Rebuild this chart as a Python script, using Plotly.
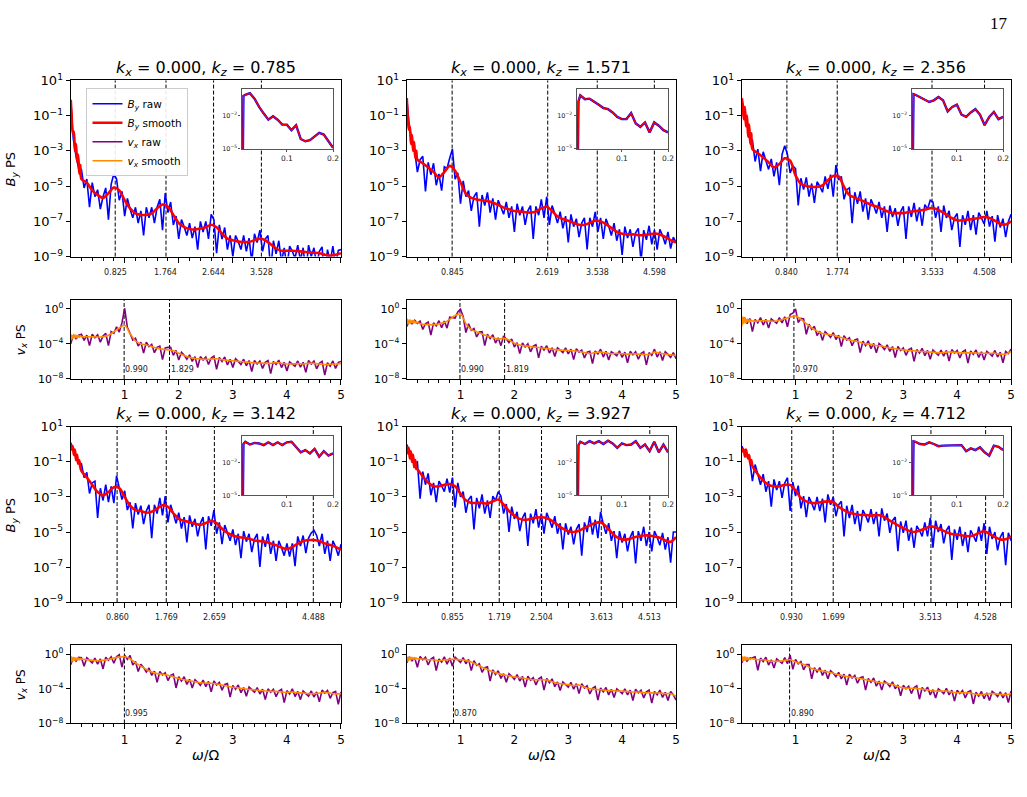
import plotly.graph_objects as go

FIG_W, FIG_H = 1027, 797

# ---------------- data ----------------
KX = 0.000
KZ = [0.785, 1.571, 2.356, 3.142, 3.927, 4.712]

# frequency sampling (omega / Omega)
S_X = [0.003, 0.02, 0.04, 0.06, 0.08, 0.10, 0.12, 0.14, 0.16, 0.18] + [round(0.2 + 0.1 * i, 2) for i in range(49)]
R_X = [0.003, 0.05, 0.1, 0.15] + [round(0.2 + 0.05 * i, 2) for i in range(97)]
INSET_X = [0.004, 0.006] + [round(0.01 * i, 2) for i in range(1, 21)]

# identified peak frequencies
BY_PEAKS = [[0.825, 1.764, 2.644, 3.528], [0.845, 2.619, 3.538, 4.598], [0.840, 1.774, 3.533, 4.508],
            [0.860, 1.769, 2.659, 4.488], [0.855, 1.719, 2.504, 3.613, 4.513], [0.930, 1.699, 3.513, 4.528]]
VX_PEAKS = [[0.990, 1.829], [0.990, 1.819], [0.970], [0.995], [0.870], [0.890]]

# log10 of B_y power spectrum, smoothed
by_smooth_1 = [-0.1, -1.0, -2.0, -1.9, -3.0, -2.6, -3.6, -3.2, -4.3, -3.8,
               -4.6, -4.8, -5.24, -5.5, -5.67, -5.4, -5.08, -5.24, -5.8, -6.26, -6.54, -6.63, -6.63, -6.54, -6.26,
               -6.04, -6.17, -6.63, -7.1, -7.33, -7.43, -7.46, -7.4, -7.33, -7.19, -7.33, -7.7, -7.98, -8.07, -8.15,
               -8.17, -8.17, -8.07, -7.98, -8.07, -8.3, -8.54, -8.67, -8.67, -8.67, -8.69, -8.72, -8.76, -8.78, -8.81,
               -8.89, -8.96, -8.9, -8.81]
by_smooth_2 = [0.0, -1.0, -1.8, -1.6, -2.6, -2.1, -3.0, -2.5, -3.4, -3.0,
               -3.5, -3.7, -3.94, -4.19, -4.5, -4.2, -3.85, -4.13, -4.78, -5.43, -5.67, -5.76, -5.8, -5.85, -5.93,
               -6.07, -6.22, -6.31, -6.41, -6.44, -6.48, -6.5, -6.44, -6.26, -6.17, -6.41, -6.72, -6.87, -6.96, -7.09,
               -7.19, -7.19, -7.09, -6.96, -7.0, -7.15, -7.37, -7.59, -7.7, -7.74, -7.74, -7.78, -7.78, -7.74, -7.69,
               -7.74, -7.89, -8.06, -8.2]
by_smooth_3 = [0.0, -0.4, -1.2, -0.5, -1.6, -1.0, -2.2, -1.5, -2.6, -2.0,
               -2.9, -3.13, -3.37, -3.65, -3.93, -3.74, -3.42, -3.55, -4.39, -4.86, -4.99, -5.04, -5.04, -4.95, -4.67,
               -4.43, -4.45, -5.04, -5.51, -5.65, -5.78, -5.91, -6.06, -6.16, -6.29, -6.43, -6.53, -6.53, -6.53, -6.47,
               -6.43, -6.39, -6.34, -6.25, -6.29, -6.43, -6.62, -6.81, -6.94, -6.94, -6.9, -6.86, -6.81, -6.75, -6.81,
               -6.96, -7.14, -7.18, -6.99]
by_smooth_4 = [0.0, -0.3, -0.1, -0.6, -0.3, -0.9, -0.6, -1.1, -0.9, -1.3,
               -1.51, -1.89, -2.31, -2.72, -2.91, -2.72, -2.45, -2.5, -3.0, -3.5, -3.75, -3.8, -3.9, -3.84, -3.66,
               -3.47, -3.56, -3.93, -4.25, -4.36, -4.44, -4.53, -4.59, -4.49, -4.36, -4.49, -4.81, -5.05, -5.2, -5.29,
               -5.33, -5.39, -5.48, -5.52, -5.56, -5.65, -5.76, -5.89, -5.98, -5.85, -5.67, -5.52, -5.46, -5.46, -5.52,
               -5.65, -5.74, -5.85, -6.02]
by_smooth_5 = [-0.1, -0.5, -0.2, -0.8, -0.4, -1.0, -0.6, -1.3, -0.9, -1.4,
               -1.42, -1.83, -2.17, -2.39, -2.39, -2.31, -2.26, -2.39, -2.82, -3.19, -3.34, -3.34, -3.34, -3.38, -3.25,
               -3.15, -3.43, -3.8, -4.07, -4.25, -4.31, -4.25, -4.18, -4.16, -4.21, -4.36, -4.59, -4.81, -4.96, -5.0,
               -4.93, -4.77, -4.62, -4.49, -4.44, -4.68, -5.01, -5.29, -5.42, -5.42, -5.33, -5.24, -5.2, -5.2, -5.26,
               -5.33, -5.48, -5.56, -5.29]
by_smooth_6 = [-0.2, -0.4, -0.3, -0.7, -0.3, -0.6, -0.8, -0.6, -1.1, -0.9,
               -1.23, -1.7, -2.07, -2.31, -2.39, -2.39, -2.31, -2.31, -2.63, -3.06, -3.25, -3.34, -3.34, -3.28, -3.25,
               -3.28, -3.56, -3.75, -3.9, -3.97, -4.03, -4.03, -4.07, -4.03, -4.07, -4.25, -4.44, -4.62, -4.77, -4.92,
               -5.0, -4.92, -4.81, -4.68, -4.74, -4.87, -5.01, -5.11, -5.15, -5.2, -5.24, -5.2, -5.05, -4.96, -5.11,
               -5.29, -5.42, -5.42, -5.24]

# log10 of B_y power spectrum, raw
by_raw_1 = [-0.15, -2.3, -3.3, -4.0,
            -4.05, -5.1, -4.6, -6.2, -4.8, -5.6, -5.2, -6.3, -5.6, -5.1,
            -6.9, -4.9, -4.3, -4.6, -5.8, -5.3, -6.7, -5.7, -6.3, -6.8,
            -6.2, -7.1, -6.4, -7.8, -6.2, -6.8, -6.2, -7.1, -6.2, -5.75,
            -7.5, -5.4, -6.5, -5.9, -7.2, -6.7, -8.0, -6.9, -7.3, -7.8,
            -7.1, -7.95, -7.3, -8.6, -7.0, -7.6, -7.0, -8.0, -6.6, -6.9,
            -8.8, -7.2, -8.0, -7.35, -8.6, -7.8, -9.0, -7.8, -8.15, -8.6,
            -7.8, -8.7, -7.95, -9.3, -7.7, -8.2, -7.5, -8.7, -8.0, -7.8,
            -9.8, -8.1, -8.85, -8.1, -9.3, -8.5, -9.6, -8.4, -8.7, -9.1,
            -8.35, -9.2, -8.5, -9.9, -8.35, -9.0, -8.5, -9.5, -8.7, -8.45,
            -10.4, -8.6, -9.3, -8.4, -9.5, -8.65, -8.6]
by_raw_2 = [0.0, -1.6, -2.4, -3.0,
            -4.2, -3.5, -3.3, -5.3, -3.65, -4.35, -3.7, -4.95, -4.3, -5.25,
            -3.9, -4.0, -3.4, -2.9, -4.6, -4.25, -6.0, -4.7, -5.6, -5.25,
            -6.4, -5.6, -5.35, -7.3, -5.5, -6.1, -5.35, -6.5, -5.7, -6.9,
            -5.8, -6.15, -6.6, -5.9, -6.8, -6.15, -7.6, -6.0, -6.65, -6.15,
            -7.2, -6.4, -6.1, -8.0, -6.15, -6.65, -5.75, -6.8, -5.6, -7.2,
            -6.1, -6.56, -7.1, -6.45, -7.4, -6.7, -8.2, -6.6, -7.3, -6.85,
            -7.9, -7.1, -6.8, -8.6, -6.8, -7.3, -6.46, -7.6, -6.8, -8.0,
            -6.85, -7.26, -7.8, -7.1, -8.1, -7.45, -8.9, -7.3, -7.95, -7.45,
            -8.45, -7.65, -7.4, -9.3, -7.5, -8.05, -7.25, -8.3, -7.5, -8.6,
            -7.45, -7.8, -8.3, -7.6, -8.55, -7.9, -8.2]
by_raw_3 = [-0.1, -0.8, -1.4, -2.2,
            -2.4, -3.6, -2.9, -4.15, -3.05, -3.5, -4.05, -3.45, -4.45, -3.65,
            -4.95, -3.2, -2.7, -3.2, -4.25, -3.85, -4.0, -6.1, -4.55, -5.2,
            -4.5, -5.6, -4.85, -5.95, -4.75, -5.0, -5.35, -4.45, -5.15, -4.35,
            -5.6, -3.8, -4.65, -4.45, -5.75, -5.2, -5.1, -7.1, -5.35, -6.0,
            -5.3, -6.45, -5.7, -6.9, -5.75, -6.1, -6.55, -5.9, -6.8, -6.15,
            -7.6, -6.1, -6.75, -6.25, -7.25, -6.45, -6.15, -8.0, -6.15, -6.75,
            -5.95, -7.0, -6.2, -7.25, -6.05, -6.3, -5.8, -5.9, -6.8, -6.15,
            -7.6, -6.1, -6.8, -6.4, -7.5, -6.8, -6.55, -8.45, -6.65, -7.2,
            -6.4, -7.5, -6.65, -7.75, -6.5, -6.8, -7.15, -6.4, -7.3, -6.7,
            -8.15, -6.65, -7.35, -6.85, -7.9, -7.0, -6.6]
by_raw_4 = [0.1, -0.3, -0.7, -1.0,
            -1.1, -1.9, -1.6, -2.8, -2.2, -2.1, -4.2, -2.5, -3.2, -2.3,
            -3.3, -2.4, -3.35, -1.8, -2.5, -3.15, -2.65, -3.75, -3.3, -4.8,
            -3.35, -4.0, -3.5, -4.55, -3.8, -3.45, -5.35, -3.45, -3.95, -3.05,
            -4.05, -2.95, -4.45, -3.45, -3.95, -4.5, -3.9, -4.8, -4.15, -5.6,
            -4.05, -4.7, -4.25, -5.25, -4.5, -4.15, -6.0, -4.1, -4.65, -3.75,
            -5.1, -4.45, -5.7, -4.6, -5.05, -5.5, -4.85, -5.75, -5.1, -6.5,
            -4.95, -5.55, -5.1, -6.15, -5.4, -5.1, -7.0, -5.25, -5.85, -5.1,
            -6.25, -5.5, -6.65, -5.5, -5.9, -6.35, -5.65, -6.4, -5.65, -6.95,
            -5.25, -5.8, -5.2, -6.2, -5.35, -5.05, -4.9, -5.2, -5.8, -5.1,
            -6.25, -5.5, -6.65, -5.5, -5.85, -6.35, -5.7]
by_raw_5 = [0.0, -0.4, -0.8, -1.1,
            -1.0, -3.1, -1.55, -2.3, -1.65, -2.9, -2.2, -3.3, -2.1, -2.35,
            -2.7, -1.95, -2.75, -1.9, -3.6, -2.2, -3.0, -2.7, -3.9, -3.15,
            -2.95, -4.85, -3.05, -3.65, -2.85, -3.95, -3.2, -4.2, -2.95, -3.2,
            -2.7, -2.95, -3.95, -3.4, -5.0, -3.55, -4.25, -3.85, -4.95, -4.2,
            -3.9, -5.8, -3.95, -4.5, -3.7, -4.75, -3.95, -5.1, -3.9, -4.3,
            -4.75, -4.1, -5.1, -4.5, -6.0, -4.5, -5.15, -4.7, -5.7, -4.85,
            -4.55, -6.35, -4.45, -5.0, -4.1, -5.15, -4.3, -5.35, -3.85, -4.55,
            -5.1, -4.5, -5.5, -4.95, -6.5, -4.95, -5.6, -5.1, -6.1, -5.3,
            -4.95, -6.8, -4.95, -5.5, -4.7, -5.8, -5.0, -6.1, -4.95, -5.3,
            -5.75, -5.05, -6.0, -5.3, -6.75, -5.0, -5.0]
by_raw_6 = [-0.1, -0.4, -0.6, -0.9,
            -2.1, -1.15, -1.7, -2.3, -1.7, -2.7, -2.1, -3.55, -2.0, -2.6,
            -2.1, -3.05, -2.2, -1.9, -3.8, -2.15, -2.95, -2.35, -3.65, -2.95,
            -4.15, -3.0, -3.35, -3.75, -3.0, -3.8, -3.1, -4.45, -2.85, -3.45,
            -3.0, -4.1, -3.45, -3.25, -5.25, -3.5, -4.2, -3.45, -4.55, -3.8,
            -4.95, -3.75, -4.05, -4.45, -3.7, -4.55, -3.85, -5.25, -3.65, -4.35,
            -3.95, -5.05, -4.35, -4.15, -6.1, -4.4, -5.05, -4.35, -5.5, -4.75,
            -5.9, -4.65, -4.9, -5.25, -4.45, -5.25, -4.2, -5.9, -4.35, -5.0,
            -4.55, -5.65, -4.9, -4.65, -6.6, -4.85, -5.45, -4.7, -5.8, -5.0,
            -6.15, -4.9, -5.2, -5.55, -4.7, -5.5, -4.5, -6.25, -4.7, -5.4,
            -5.0, -6.05, -5.3, -5.0, -6.9, -5.05, -5.5]

# log10 of v_x power spectrum, smoothed
vx_smooth_1 = [-3.6, -3.0, -3.4, -2.9, -3.3, -3.0, -3.35, -3.05, -3.25, -3.1,
               -3.18, -3.18, -3.18, -3.22, -3.18, -3.0, -2.62, -2.17, -1.87, -2.81, -3.67, -4.0, -4.12, -4.31, -4.49,
               -4.6, -4.68, -4.79, -5.06, -5.32, -5.54, -5.66, -5.73, -5.77, -5.73, -5.69, -5.8, -5.88, -5.92, -5.99,
               -6.07, -6.1, -6.18, -6.18, -6.22, -6.22, -6.14, -6.22, -6.29, -6.29, -6.25, -6.29, -6.22, -6.22, -6.29,
               -6.37, -6.33, -6.29, -6.22]
vx_smooth_2 = [-1.8, -1.2, -1.7, -1.25, -1.6, -1.3, -1.65, -1.35, -1.6, -1.45,
               -1.57, -1.76, -1.8, -1.8, -1.72, -1.57, -1.2, -0.75, -0.56, -1.69, -2.36, -2.62, -2.88, -3.11, -3.3,
               -3.45, -3.37, -3.56, -3.93, -4.12, -4.23, -4.31, -4.38, -4.46, -4.53, -4.61, -4.68, -4.72, -4.76, -4.79,
               -4.87, -4.98, -5.13, -4.98, -4.94, -5.02, -5.13, -5.06, -5.13, -5.17, -5.13, -5.17, -5.21, -5.21, -4.94,
               -5.06, -5.17, -5.24, -5.32]
vx_smooth_3 = [-2.0, -0.9, -1.7, -1.0, -1.6, -1.15, -1.5, -1.25, -1.45, -1.3,
               -1.39, -1.39, -1.35, -1.39, -1.42, -1.31, -1.12, -0.94, -0.8, -1.2, -1.69, -2.17, -2.55, -2.81, -2.92,
               -3.0, -3.18, -3.37, -3.56, -3.67, -3.82, -4.0, -4.04, -4.19, -4.23, -4.42, -4.49, -4.61, -4.68, -4.76,
               -4.79, -4.87, -4.87, -4.94, -4.98, -5.02, -4.94, -4.94, -4.98, -5.02, -5.02, -5.02, -5.06, -5.06, -5.09,
               -5.06, -5.17, -5.17, -4.87]
vx_smooth_4 = [-1.0, -0.3, -0.8, -0.35, -0.75, -0.4, -0.7, -0.45, -0.65, -0.5,
               -0.56, -0.64, -0.71, -0.75, -0.71, -0.6, -0.45, -0.34, -0.3, -0.52, -1.0, -1.38, -1.76, -2.06, -2.24,
               -2.32, -2.43, -2.62, -2.8, -2.95, -3.06, -3.18, -3.29, -3.33, -3.36, -3.44, -3.55, -3.7, -3.81, -3.89,
               -4.0, -4.07, -4.11, -4.19, -4.26, -4.3, -4.3, -4.37, -4.41, -4.37, -4.45, -4.49, -4.56, -4.56, -4.49,
               -4.41, -4.49, -4.6, -4.56]
vx_smooth_5 = [-0.9, -0.35, -0.7, -0.3, -0.65, -0.35, -0.6, -0.4, -0.6, -0.45,
               -0.52, -0.56, -0.64, -0.64, -0.75, -0.67, -0.6, -0.6, -0.64, -0.71, -0.9, -1.2, -1.5, -1.76, -2.02,
               -2.24, -2.39, -2.5, -2.62, -2.69, -2.8, -2.92, -2.95, -2.95, -2.99, -3.18, -3.36, -3.44, -3.51, -3.63,
               -3.55, -3.81, -4.0, -4.07, -4.11, -4.19, -4.19, -4.26, -4.26, -4.3, -4.37, -4.37, -4.45, -4.45, -4.49,
               -4.49, -4.56, -4.56, -4.86]
vx_smooth_6 = [-0.9, -0.3, -0.75, -0.3, -0.7, -0.35, -0.65, -0.4, -0.6, -0.45,
               -0.52, -0.64, -0.64, -0.75, -0.82, -0.82, -0.71, -0.64, -0.9, -1.08, -1.31, -1.64, -1.83, -1.94, -2.06,
               -2.21, -2.39, -2.5, -2.62, -2.69, -2.8, -2.95, -3.06, -3.18, -3.33, -3.36, -3.51, -3.74, -3.89, -3.93,
               -3.93, -4.0, -4.07, -4.19, -4.26, -4.26, -4.26, -4.37, -4.45, -4.45, -4.45, -4.56, -4.67, -4.64, -4.56,
               -4.56, -4.64, -4.67, -4.56]

# log10 of v_x power spectrum, raw
vx_raw_1 = [-4.0, -3.0, -3.4, -3.0,
            -2.9, -3.6, -3.0, -4.2, -2.9, -3.3, -2.95, -3.8, -3.1, -2.8,
            -4.2, -2.6, -2.8, -2.05, -2.65, -1.6, 0.05, -2.1, -2.8, -3.55,
            -3.35, -4.25, -3.8, -5.05, -3.8, -4.3, -4.05, -5.0, -4.4, -4.25,
            -5.8, -4.45, -4.4, -4.4, -5.3, -4.75, -5.85, -4.95, -5.3, -5.75,
            -5.25, -6.0, -5.45, -6.7, -5.45, -5.85, -5.5, -6.35, -5.6, -5.4,
            -6.9, -5.55, -6.0, -5.5, -6.4, -5.75, -6.7, -5.7, -6.0, -6.35,
            -5.75, -6.5, -5.9, -7.15, -5.9, -6.3, -5.95, -6.8, -6.1, -5.9,
            -7.4, -6.0, -6.35, -5.85, -6.7, -6.1, -7.1, -6.05, -6.3, -6.55,
            -5.95, -6.65, -6.1, -7.25, -5.9, -6.3, -5.95, -6.85, -6.2, -6.0,
            -7.55, -6.15, -6.55, -5.95, -6.8, -6.1, -6.0]
vx_raw_2 = [-2.0, -1.4, -1.7, -1.3,
            -1.65, -1.4, -2.35, -1.7, -1.5, -3.0, -1.6, -1.95, -1.35, -2.15,
            -1.4, -2.2, -0.95, -1.0, -1.05, -0.35, -0.05, -0.9, -2.7, -1.7,
            -2.45, -2.25, -3.2, -2.65, -2.6, -4.2, -2.9, -3.4, -2.95, -3.9,
            -3.3, -4.2, -3.1, -3.45, -3.85, -3.45, -4.35, -3.85, -5.1, -3.9,
            -4.35, -4.0, -4.9, -4.25, -4.1, -5.6, -4.25, -4.7, -4.2, -5.05,
            -4.45, -5.45, -4.45, -4.7, -5.0, -4.45, -5.15, -4.6, -5.8, -4.55,
            -4.95, -4.7, -5.6, -4.95, -4.85, -6.25, -4.8, -5.15, -4.6, -5.5,
            -4.85, -5.85, -4.9, -5.1, -5.35, -4.8, -5.55, -4.95, -6.15, -4.85,
            -5.25, -4.9, -5.75, -5.1, -4.9, -6.4, -5.0, -5.3, -4.6, -5.5,
            -4.9, -5.9, -4.9, -5.2, -5.55, -5.0, -5.7]
vx_raw_3 = [-1.6, -1.0, -1.7, -1.1,
            -2.6, -1.2, -1.6, -1.0, -1.85, -1.2, -2.2, -1.15, -1.4, -1.65,
            -1.0, -1.6, -0.9, -2.05, -0.65, -0.5, 0.0, -1.55, -1.1, -1.15,
            -2.9, -1.75, -2.35, -2.0, -3.05, -2.55, -3.6, -2.6, -2.9, -3.25,
            -2.7, -3.5, -3.0, -4.3, -3.05, -3.55, -3.3, -4.2, -3.55, -3.45,
            -5.0, -3.7, -4.2, -3.65, -4.55, -3.95, -5.0, -3.95, -4.25, -4.65,
            -4.1, -4.85, -4.3, -5.55, -4.3, -4.75, -4.45, -5.3, -4.65, -4.5,
            -6.0, -4.65, -5.05, -4.5, -5.35, -4.75, -5.75, -4.7, -5.0, -5.3,
            -4.7, -5.4, -4.75, -5.95, -4.65, -5.05, -4.75, -5.6, -4.9, -4.7,
            -6.2, -4.8, -5.2, -4.7, -5.55, -4.9, -5.85, -4.85, -5.1, -5.4,
            -4.75, -5.5, -4.95, -6.15, -4.85, -5.1, -4.6]
vx_raw_4 = [-1.2, -0.4, -0.8, -0.35,
            -0.4, -1.4, -0.4, -0.7, -1.0, -0.45, -1.15, -0.55, -1.7, -0.35,
            -0.7, -0.3, -1.05, -0.3, -0.05, -1.5, -0.1, -0.6, -0.15, -1.25,
            -0.85, -2.0, -1.15, -1.55, -2.05, -1.6, -2.45, -1.95, -3.25, -2.0,
            -2.4, -2.15, -3.05, -2.45, -2.3, -3.9, -2.6, -3.1, -2.6, -3.5,
            -2.9, -3.9, -2.95, -3.25, -3.6, -3.0, -3.75, -3.15, -4.35, -3.1,
            -3.55, -3.25, -4.15, -3.5, -3.4, -4.95, -3.6, -4.05, -3.55, -4.45,
            -3.85, -4.85, -3.8, -4.1, -4.4, -3.85, -4.6, -4.05, -5.25, -4.0,
            -4.4, -4.05, -4.9, -4.25, -4.05, -5.6, -4.2, -4.6, -4.0, -4.9,
            -4.3, -5.25, -4.25, -4.55, -4.85, -4.25, -4.95, -4.35, -5.5, -4.15,
            -4.5, -4.2, -5.1, -4.45, -4.3, -5.8, -4.35]
vx_raw_5 = [-1.0, -0.35, -0.75, -0.4,
            -1.5, -0.25, -0.65, -0.35, -1.25, -0.55, -0.35, -1.9, -0.55, -0.9,
            -0.3, -1.15, -0.45, -1.4, -0.35, -0.6, -0.95, -0.4, -1.1, -0.6,
            -1.9, -0.75, -1.3, -1.1, -2.1, -1.55, -1.45, -3.1, -1.8, -2.35,
            -1.9, -2.8, -2.25, -3.25, -2.25, -2.55, -2.9, -2.35, -3.1, -2.55,
            -3.8, -2.55, -3.0, -2.7, -3.55, -2.85, -2.65, -4.15, -2.8, -3.3,
            -2.85, -3.75, -3.2, -4.2, -3.2, -3.5, -3.8, -3.25, -4.05, -3.4,
            -4.55, -3.4, -3.9, -3.65, -4.6, -3.95, -3.75, -5.3, -3.9, -4.35,
            -3.85, -4.7, -4.05, -5.0, -4.0, -4.25, -4.55, -4.0, -4.7, -4.15,
            -5.35, -4.05, -4.45, -4.15, -5.05, -4.35, -4.15, -5.65, -4.3, -4.7,
            -4.15, -5.0, -4.4, -5.35, -4.3, -4.7, -5.3]
vx_raw_6 = [-1.0, -0.35, -0.8, -0.4,
            -0.4, -0.3, -1.85, -0.45, -0.85, -0.35, -1.25, -0.65, -1.6, -0.55,
            -0.8, -1.05, -0.4, -1.1, -0.1, -1.75, -0.6, -1.1, -0.85, -1.8,
            -1.2, -1.2, -2.85, -1.55, -2.05, -1.55, -2.45, -1.85, -2.85, -1.9,
            -2.2, -2.6, -2.1, -2.85, -2.3, -3.55, -2.3, -2.75, -2.45, -3.35,
            -2.7, -2.6, -4.15, -2.8, -3.25, -2.75, -3.7, -3.1, -4.15, -3.1,
            -3.35, -3.75, -3.2, -4.0, -3.55, -4.8, -3.6, -4.0, -3.7, -4.55,
            -3.85, -3.65, -5.2, -3.85, -4.25, -3.8, -4.7, -4.1, -5.05, -4.0,
            -4.25, -4.55, -3.95, -4.7, -4.15, -5.4, -4.15, -4.55, -4.2, -5.05,
            -4.35, -4.2, -5.75, -4.4, -4.85, -4.3, -5.15, -4.45, -5.35, -4.3,
            -4.55, -4.9, -4.35, -5.05, -4.45, -5.6, -4.25]

# log10 of B_y power spectrum at low frequency (insets)
inset_1 = [-9, -0.2, -0.1, 0.05, -0.45, -1.2, -1.8, -2.35, -2.05, -2.35, -2.8, -2.8, -3.3, -2.85, -4.1, -4.3,
           -4.2, -3.9, -3.55, -3.7, -4.3, -4.9]
inset_2 = [-9, -0.7, -0.15, -0.5, -0.45, -0.7, -1.0, -1.3, -1.4, -1.7, -2.1, -2.3, -2.3, -1.75, -2.7, -3.0,
           -2.6, -3.5, -2.6, -2.9, -3.3, -3.5]
inset_3 = [-9, -0.05, -0.1, -0.3, -0.55, -0.75, -0.6, -0.3, -0.6, -1.6, -1.2, -1.0, -1.9, -2.1, -1.7, -1.4,
           -1.9, -2.85, -2.1, -1.65, -2.3, -2.1]
inset_4 = [-9, -0.35, -0.15, -0.4, -0.25, -0.3, -0.45, -0.2, -0.45, -0.2, -0.45, -0.2, -0.15, -0.6, -1.1, -0.9,
           -1.2, -0.8, -1.5, -1.0, -1.4, -1.2]
inset_5 = [-9, -0.45, -0.15, -0.35, -0.1, -0.3, -0.1, -0.35, -0.05, -0.3, -0.7, -0.3, -0.45, -0.4, -0.1, -0.7,
           -0.4, -1.0, -0.15, -1.1, -0.4, -1.1]
inset_6 = [-9, -0.1, -0.15, -0.35, -0.4, -0.2, -0.35, -0.55, -0.5, -0.5, -0.45, -0.45, -0.45, -1.0, -0.75, -0.9,
           -0.65, -1.1, -1.4, -0.5, -0.6, -0.9]

BY_SMOOTH = [by_smooth_1, by_smooth_2, by_smooth_3, by_smooth_4, by_smooth_5, by_smooth_6]
BY_RAW = [by_raw_1, by_raw_2, by_raw_3, by_raw_4, by_raw_5, by_raw_6]
VX_SMOOTH = [vx_smooth_1, vx_smooth_2, vx_smooth_3, vx_smooth_4, vx_smooth_5, vx_smooth_6]
VX_RAW = [vx_raw_1, vx_raw_2, vx_raw_3, vx_raw_4, vx_raw_5, vx_raw_6]
INSETS = [inset_1, inset_2, inset_3, inset_4, inset_5, inset_6]

for arr in BY_SMOOTH + VX_SMOOTH:
    assert len(arr) == len(S_X), len(arr)
for arr in BY_RAW + VX_RAW:
    assert len(arr) == len(R_X), len(arr)
for arr in INSETS:
    assert len(arr) == len(INSET_X), len(arr)

# ---------------- layout geometry (pixels) ----------------
COL_X = [(71, 343), (409, 680), (746, 1017)]
BY_Y = [(73, 253), (427, 606)]
VX_Y = [(297, 378), (650, 730)]
INSET_COL_X = [(243, 335), (580, 672), (917, 1009)]
INSET_ROW_Y = [(82, 143), (436, 497)]

FONT = "DejaVu Sans"
BLUE, RED, PURPLE, ORANGE = "#0000ff", "#ff0000", "#800080", "#ff8c00"


def xd(a, b):
    return [a / FIG_W, b / FIG_W]


def yd(top, bottom):
    return [1 - bottom / FIG_H, 1 - top / FIG_H]


def aid(n):
    return "" if n == 1 else str(n)


def pow10(vals):
    return [10 ** v for v in vals]


def sup(e):
    return "10<sup>%s</sup>" % (str(e).replace("-", "\u2212"))


fig = go.Figure()
layout = {}
shapes = []
annotations = []

minor_vals = [round(0.2 * k, 1) for k in range(1, 25) if k % 5 != 0]

for i in range(6):
    row, col = divmod(i, 3)
    n_by, n_vx = i + 1, i + 7
    show = i == 0
    fig.add_trace(go.Scatter(x=R_X, y=pow10(BY_RAW[i]), xaxis="x" + aid(n_by), yaxis="y" + aid(n_by),
                             mode="lines", line=dict(color=BLUE, width=1.6),
                             name="<i>B<sub>y</sub></i> raw", showlegend=show))
    fig.add_trace(go.Scatter(x=S_X, y=pow10(BY_SMOOTH[i]), xaxis="x" + aid(n_by), yaxis="y" + aid(n_by),
                             mode="lines", line=dict(color=RED, width=2.6, shape="spline", smoothing=0.8),
                             name="<i>B<sub>y</sub></i> smooth", showlegend=show))
    fig.add_trace(go.Scatter(x=R_X, y=pow10(VX_RAW[i]), xaxis="x" + aid(n_vx), yaxis="y" + aid(n_vx),
                             mode="lines", line=dict(color=PURPLE, width=1.6),
                             name="<i>v<sub>x</sub></i> raw", showlegend=show))
    fig.add_trace(go.Scatter(x=S_X, y=pow10(VX_SMOOTH[i]), xaxis="x" + aid(n_vx), yaxis="y" + aid(n_vx),
                             mode="lines", line=dict(color=ORANGE, width=1.6, shape="spline", smoothing=0.8),
                             name="<i>v<sub>x</sub></i> smooth", showlegend=show))

    common_x = dict(range=[0, 5], showline=True, mirror=True, linecolor="black", linewidth=1.1,
                    ticks="outside", ticklen=5, tickcolor="black", showgrid=False, zeroline=False,
                    tickvals=[1, 2, 3, 4, 5],
                    minor=dict(tickmode="array", tickvals=minor_vals, ticks="outside", ticklen=3,
                               tickcolor="black"))
    # B_y panel axes
    layout["xaxis" + aid(n_by)] = dict(common_x, domain=xd(*COL_X[col]), anchor="y" + aid(n_by),
                                       ticktext=[""] * 5)
    layout["yaxis" + aid(n_by)] = dict(type="log", range=[-9, 1], domain=yd(*BY_Y[row]), anchor="x" + aid(n_by),
                                       showline=True, mirror=True, linecolor="black", linewidth=1.1,
                                       ticks="outside", ticklen=4, tickcolor="black", showgrid=False,
                                       tickvals=[10.0 ** e for e in (1, -1, -3, -5, -7, -9)],
                                       ticktext=[sup(e) for e in (1, -1, -3, -5, -7, -9)],
                                       tickfont=dict(size=13, color="black", family=FONT))
    # v_x panel axes
    layout["xaxis" + aid(n_vx)] = dict(common_x, domain=xd(*COL_X[col]), anchor="y" + aid(n_vx),
                                       ticktext=["1", "2", "3", "4", "5"],
                                       tickfont=dict(size=12, color="black", family=FONT))
    layout["yaxis" + aid(n_vx)] = dict(type="log", range=[-8, 1.05], domain=yd(*VX_Y[row]),
                                       anchor="x" + aid(n_vx),
                                       showline=True, mirror=True, linecolor="black", linewidth=1.1,
                                       ticks="outside", ticklen=4, tickcolor="black", showgrid=False,
                                       tickvals=[1.0, 1e-4, 1e-8], ticktext=[sup(0), sup(-4), sup(-8)],
                                       tickfont=dict(size=11, color="black", family=FONT))

    # dashed peak markers and their labels
    for p in BY_PEAKS[i]:
        shapes.append(dict(type="line", xref="x" + aid(n_by), yref="y" + aid(n_by) + " domain",
                           x0=p, x1=p, y0=0, y1=1, layer="below",
                           line=dict(color="black", width=1, dash="4px,2px")))
        annotations.append(dict(x=p, y=0, xref="x" + aid(n_by), yref="y" + aid(n_by) + " domain",
                                text="%.3f" % p, showarrow=False, yanchor="top", yshift=-9,
                                font=dict(size=8, color="#222", family=FONT)))
    for p in VX_PEAKS[i]:
        shapes.append(dict(type="line", xref="x" + aid(n_vx), yref="y" + aid(n_vx) + " domain",
                           x0=p, x1=p, y0=0, y1=1, layer="below",
                           line=dict(color="black", width=1, dash="4px,2px")))
        annotations.append(dict(x=p, y=0, xref="x" + aid(n_vx), yref="y" + aid(n_vx) + " domain",
                                text="%.3f" % p, showarrow=False, xanchor="left", yanchor="bottom",
                                yshift=3, xshift=-1, font=dict(size=8, color="#222", family=FONT)))

    # panel title
    cx = (COL_X[col][0] + COL_X[col][1]) / 2 / FIG_W
    ty = 61 if row == 0 else 414
    annotations.append(dict(x=cx, y=1 - ty / FIG_H, xref="paper", yref="paper", showarrow=False,
                            xanchor="center", yanchor="middle",
                            text="<i>k<sub>x</sub></i> = %.3f, <i>k<sub>z</sub></i> = %.3f" % (KX, KZ[i]),
                            font=dict(size=16, color="black", family=FONT)))

# insets (added last so they sit on top of the main panels)
for i in range(6):
    row, col = divmod(i, 3)
    n_in = i + 13
    fig.add_trace(go.Scatter(x=INSET_X, y=pow10(INSETS[i]), xaxis="x" + aid(n_in), yaxis="y" + aid(n_in),
                             mode="lines", line=dict(color=BLUE, width=2.4), showlegend=False))
    fig.add_trace(go.Scatter(x=INSET_X, y=pow10(INSETS[i]), xaxis="x" + aid(n_in), yaxis="y" + aid(n_in),
                             mode="lines", line=dict(color=RED, width=1.4), showlegend=False))
    layout["xaxis" + aid(n_in)] = dict(range=[0.002, 0.2], domain=xd(*INSET_COL_X[col]), anchor="y" + aid(n_in),
                                       showline=True, mirror=True, linecolor="#555", linewidth=1.2,
                                       ticks="outside", ticklen=2, tickcolor="#555", showgrid=False,
                                       zeroline=False, tickvals=[0.1, 0.2], ticktext=["0.1", "0.2"],
                                       tickfont=dict(size=7.5, color="#222", family=FONT))
    layout["yaxis" + aid(n_in)] = dict(type="log", range=[-5, 0.4], domain=yd(*INSET_ROW_Y[row]),
                                       anchor="x" + aid(n_in), showline=True, mirror=True, linecolor="#555",
                                       linewidth=1.2, ticks="outside", ticklen=2, tickcolor="#555",
                                       showgrid=False, tickvals=[1e-2, 1e-5], ticktext=[sup(-2), sup(-5)],
                                       tickfont=dict(size=6.5, color="#222", family=FONT))

# axis labels
for row in range(2):
    by_c = (BY_Y[row][0] + BY_Y[row][1]) / 2
    vx_c = (VX_Y[row][0] + VX_Y[row][1]) / 2
    annotations.append(dict(x=12 / FIG_W, y=1 - by_c / FIG_H, xref="paper", yref="paper", showarrow=False,
                            xanchor="center", yanchor="middle",
                            text="<i>B<sub>y</sub></i> PS", textangle=-90,
                            font=dict(size=13, color="black", family=FONT)))
    annotations.append(dict(x=22 / FIG_W, y=1 - vx_c / FIG_H, xref="paper", yref="paper", showarrow=False,
                            xanchor="center", yanchor="middle",
                            text="<i>v<sub>x</sub></i> PS", textangle=-90,
                            font=dict(size=12, color="black", family=FONT)))
for col in range(3):
    cx = (COL_X[col][0] + COL_X[col][1]) / 2 / FIG_W
    annotations.append(dict(x=cx, y=1 - 762 / FIG_H, xref="paper", yref="paper", showarrow=False,
                            xanchor="center", yanchor="middle",
                            text="<i>\u03c9</i>/\u03a9", font=dict(size=14, color="black", family=FONT)))

# page number
annotations.append(dict(x=1005 / FIG_W, y=1 - 15 / FIG_H, xref="paper", yref="paper", showarrow=False,
                        xanchor="center", yanchor="middle",
                        text="17", font=dict(size=17, color="black", family="Liberation Serif")))

fig.update_layout(
    width=FIG_W, height=FIG_H,
    margin=dict(l=0, r=0, t=0, b=0),
    paper_bgcolor="white", plot_bgcolor="white",
    font=dict(family=FONT, color="black"),
    showlegend=True,
    legend=dict(x=87 / FIG_W, y=1 - 81 / FIG_H, xanchor="left", yanchor="top",
                bgcolor="rgba(255,255,255,0.9)", bordercolor="#cccccc", borderwidth=1,
                font=dict(size=10.5, family=FONT, color="black"), tracegroupgap=0, itemwidth=30),
    shapes=shapes, annotations=annotations,
    **layout,
)

fig.write_html("out.html")
